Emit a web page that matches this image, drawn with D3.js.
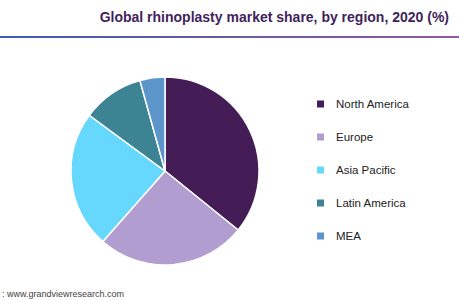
<!DOCTYPE html>
<html>
<head>
<meta charset="utf-8">
<script src="https://cdn.jsdelivr.net/npm/d3@7"></script>
<style>
  body { margin: 0; background: #fff; }
  text { font-family: "Liberation Sans", Arial, sans-serif; }
</style>
</head>
<body>
<div id="chart"></div>
<script>
const regions = ["North America", "Europe", "Asia Pacific", "Latin America", "MEA"]
const shares = [35.8, 25.7, 23.6, 10.6, 4.3]
const colors = ["#441d57", "#b19dd0", "#66d7fd", "#3c8494", "#5b95c9"]

var width = 459
var height = 300

const svg = d3.select("#chart")
    .append("svg")
    .attr("width", width)
    .attr("height", height)

// title + gradient rule
svg.append("text")
    .attr("x", 449)
    .attr("y", 22)
    .attr("text-anchor", "end")
    .attr("font-size", "14px")
    .attr("font-weight", "bold")
    .attr("fill", "#3f1f5c")
    .text("Global rhinoplasty market share, by region, 2020 (%)")

const grad = svg.append("defs").append("linearGradient")
    .attr("id", "rule")
grad.append("stop").attr("offset", "0%").attr("stop-color", "#3f5bab")
grad.append("stop").attr("offset", "100%").attr("stop-color", "#9157a8")

svg.append("rect")
    .attr("x", 0)
    .attr("y", 36)
    .attr("width", width)
    .attr("height", 2)
    .attr("fill", "url(#rule)")

// pie
const radius = 94
const g = svg.append("g")
    .attr("transform", "translate(165,171)")

const pie = d3.pie().sort(null).value(d => d)
const arc = d3.arc().innerRadius(0).outerRadius(radius)

g.selectAll("path")
    .data(pie(shares))
    .join("path")
    .attr("d", arc)
    .attr("fill", (d, i) => colors[i])
    .attr("stroke", "#fff")
    .attr("stroke-width", 1.5)

// legend
const y = d3.scalePoint().domain(regions).range([104, 236])
const legend = svg.append("g")
regions.forEach((r, i) => {
    legend.append("rect")
        .attr("x", 317)
        .attr("y", y(r) - 3.5)
        .attr("width", 7)
        .attr("height", 7)
        .attr("fill", colors[i])
    legend.append("text")
        .attr("x", 336)
        .attr("y", y(r) + 4)
        .attr("font-size", "11.5px")
        .attr("fill", "#222")
        .text(r)
})

svg.append("text")
    .attr("x", 2)
    .attr("y", 297)
    .attr("font-size", "9px")
    .attr("fill", "#444")
    .text(": www.grandviewresearch.com")
</script>
</body>
</html>
